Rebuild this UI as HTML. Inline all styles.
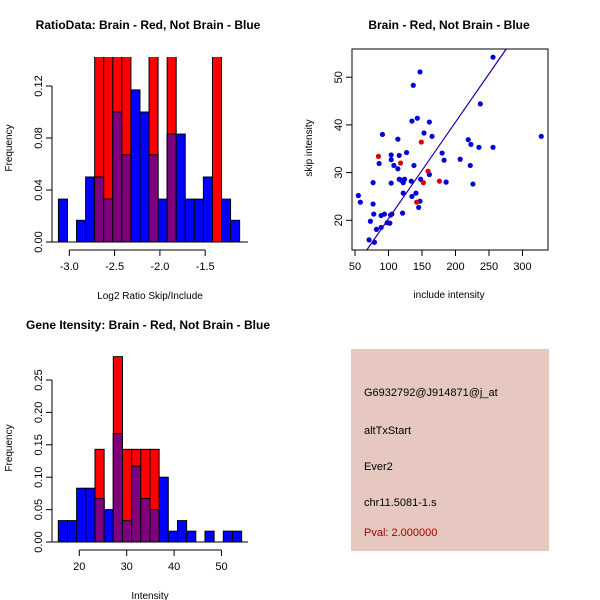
<!DOCTYPE html>
<html><head><meta charset="utf-8"><style>
body{margin:0;background:#fff}
svg{display:block;font-family:"Liberation Sans",sans-serif}
</style></head><body>
<svg id="s" width="600" height="600" viewBox="0 0 600 600" xmlns="http://www.w3.org/2000/svg">
<text x="148" y="29" font-size="12" font-weight="bold" text-anchor="middle">RatioData: Brain - Red, Not Brain - Blue</text>
<text x="449" y="29" font-size="12" font-weight="bold" text-anchor="middle">Brain - Red, Not Brain - Blue</text>
<text x="148" y="329" font-size="12" font-weight="bold" text-anchor="middle">Gene Itensity: Brain - Red, Not Brain - Blue</text>
<g id="p1"></g>
<g id="p2"></g>
<g id="p3"></g>
<g>
<rect x="351" y="349" width="198" height="202" fill="#e6c8c0"/>
<text x="364" y="396" font-size="11">G6932792@J914871@j_at</text>
<text x="364" y="434" font-size="11">altTxStart</text>
<text x="364" y="470" font-size="11">Ever2</text>
<text x="364" y="506" font-size="11">chr11.5081-1.s</text>
<text x="364" y="536" font-size="11" fill="#a00000">Pval: 2.000000</text>
</g>
</svg>
<script>
// Ratio histogram data
const ratioBinStart = -3.12, ratioBinWidth = 0.1;
const ratioBlue = [0.033,0,0.0167,0.05,0.05,0.033,0.1,0.067,0.117,0.1,0.067,0.033,0.083,0.083,0.033,0.033,0.05,0,0.033,0.0167];
const ratioRed  = [0,0,0,0,0.143,0.143,0.143,0.143,0,0,0.143,0,0.143,0,0,0,0,0.143,0,0];
const ratioXTicks = [-3.0,-2.5,-2.0,-1.5];
const ratioXLabels = ["-3.0","-2.5","-2.0","-1.5"];
const ratioYTicks = [0,0.04,0.08,0.12];
const ratioYLabels = ["0.00","0.04","0.08","0.12"];
// Intensity histogram data
const intBinStart = 15.57, intBinWidth = 1.934;
const intBlue = [0.033,0.033,0.083,0.083,0.067,0.05,0.167,0.033,0.117,0.067,0.05,0.1,0.0167,0.033,0.0167,0,0.0167,0,0.0167,0.0167];
const intRed  = [0,0,0,0,0.143,0,0.286,0.143,0.143,0.143,0.143,0,0,0,0,0,0,0,0,0];
const intXTicks = [20,30,40,50];
const intXLabels = ["20","30","40","50"];
const intYTicks = [0,0.05,0.1,0.15,0.2,0.25];
const intYLabels = ["0.00","0.05","0.10","0.15","0.20","0.25"];
// Scatter data
const blueX = [55,58,71,79,77,78,77,73,82,86,91,89,89,94,98,102,103,105,104,104,104,108,114,114,116,116,119,122,124,127,121,122,134,135,135,137,138,141,143,145,147,147,148,153,161,161,165,180,183,186,207,219,223,222,226,235,237,256,256,328];
const blueY = [25.2,23.8,15.9,15.4,23.4,21.3,27.9,19.8,18.1,31.9,38.0,21.0,18.5,21.3,19.5,19.4,21.1,21.3,33.7,32.7,27.8,31.5,37.0,30.8,33.6,28.6,28.4,27.9,28.6,34.2,21.5,25.7,28.2,25.0,40.8,48.3,31.5,25.7,41.4,22.7,51.1,24.0,28.6,38.3,40.6,29.6,37.6,34.1,32.6,28.0,32.8,36.9,35.9,31.5,27.6,35.3,44.4,35.3,54.2,37.6];
const redX = [85,118,149,152,159,176,142];
const redY = [33.4,32.0,36.4,27.9,30.3,28.2,23.8];
const fitIntercepts = [0.2,0.0];
const fitSlopes = [0.2018,0.2030];
const fitColors = ["#ff0000","#0000cc"];
const scXTicks = [50,100,150,200,250,300];
const scYTicks = [20,30,40,50];

const NS="http://www.w3.org/2000/svg";
function mk(parent,tag,attrs){const e=document.createElementNS(NS,tag);for(const k in attrs)e.setAttribute(k,attrs[k]);parent.appendChild(e);return e;}

function hist(g,o){
  const sx=v=>o.x0+(v-o.v0)*o.kx, sy=v=>o.y0-v*o.ky;
  const clip=mk(g,'clipPath',{id:o.id+'c'});
  mk(clip,'rect',{x:40,y:o.top,width:230,height:o.y0-o.top+1});
  const bars=mk(g,'g',{'clip-path':'url(#'+o.id+'c)'});
  for(let i=0;i<o.blue.length;i++){
    const xa=sx(o.start+i*o.w), xb=sx(o.start+(i+1)*o.w);
    const b=o.blue[i], r=o.red[i], m=Math.min(b,r);
    if(r>0){const e=mk(bars,'rect',{x:xa,y:sy(r),width:xb-xa,height:sy(0)-sy(r),fill:'#ff0000',stroke:'#000','stroke-width':1});
      
      }
    if(b>0){const e=mk(bars,'rect',{x:xa,y:sy(b),width:xb-xa,height:sy(0)-sy(b),fill:'#0000ff',stroke:'#000','stroke-width':1});
      
      }
    if(m>0){const e=mk(bars,'rect',{x:xa,y:sy(m),width:xb-xa,height:sy(0)-sy(m),fill:'#7f007f',stroke:'#000','stroke-width':1});
      
      }
  }
  // y axis
  const ya=mk(g,'g',{});
  
  
  mk(ya,'line',{x1:o.ax,x2:o.ax,y1:sy(o.yt[0]),y2:sy(o.yt[o.yt.length-1]),stroke:'#000'});
  o.yt.forEach((v,i)=>{mk(ya,'line',{x1:o.ax-6,x2:o.ax,y1:sy(v),y2:sy(v),stroke:'#000'});
    const t=mk(ya,'text',{x:0,y:0,'font-size':11,'text-anchor':'middle',transform:`translate(${o.ax-10},${sy(v)}) rotate(-90)`});t.textContent=o.yl[i];});
  const xa=mk(g,'g',{});
  
  
  const xy=o.y0+8;
  mk(xa,'line',{x1:sx(o.xt[0]),x2:sx(o.xt[o.xt.length-1]),y1:xy,y2:xy,stroke:'#000'});
  o.xt.forEach((v,i)=>{mk(xa,'line',{x1:sx(v),x2:sx(v),y1:xy,y2:xy+6,stroke:'#000'});
    const t=mk(xa,'text',{x:sx(v),y:xy+20,'font-size':11,'text-anchor':'middle'});t.textContent=o.xl[i];});
  // baseline
  mk(g,'line',{x1:o.ax,x2:248,y1:o.y0,y2:o.y0,stroke:'#000'});
  const xt=mk(g,'text',{x:150,y:o.y0+57,'font-size':10,'text-anchor':'middle'});xt.textContent=o.xtitle;
  
  
  const yt=mk(g,'text',{x:0,y:0,'font-size':10,'text-anchor':'middle',transform:`translate(12,${o.ymid}) rotate(-90)`});yt.textContent='Frequency';
  
  
}
hist(document.getElementById('p1'),{id:'p1',x0:69.3,v0:-3.0,kx:90.6,y0:242,ky:1300,top:57,ax:52,
  start:ratioBinStart,w:ratioBinWidth,blue:ratioBlue,red:ratioRed,xt:ratioXTicks,xl:ratioXLabels,yt:ratioYTicks,yl:ratioYLabels,
  xtitle:'Log2 Ratio Skip/Include',ymid:148});
hist(document.getElementById('p2'),{id:'p2',x0:79.3,v0:20,kx:4.74,y0:542,ky:648,top:350,ax:52,
  start:intBinStart,w:intBinWidth,blue:intBlue,red:intRed,xt:intXTicks,xl:intXLabels,yt:intYTicks,yl:intYLabels,
  xtitle:'Intensity',ymid:448});

// scatter
(function(){
  const g=document.getElementById('p3');
  const sx=v=>355+(v-50)*0.67, sy=v=>220.3-(v-20)*4.77;
  const L=352,R=548,T=49,B=250;
  const clip=mk(g,'clipPath',{id:'p3c'});mk(clip,'rect',{x:L,y:T,width:R-L,height:B-T});
  const area=mk(g,'g',{'clip-path':'url(#p3c)'});
  blueX.forEach((x,i)=>{const c=mk(area,'circle',{cx:sx(x),cy:sy(blueY[i]),r:2.6,fill:'#0000dd'});
    
    });
  redX.forEach((x,i)=>{const c=mk(area,'circle',{cx:sx(x),cy:sy(redY[i]),r:2.6,fill:'#dd0000'});
    
    });
  fitSlopes.forEach((s,i)=>{const a=fitIntercepts[i];
    const l=mk(area,'line',{x1:sx(40),y1:sy(a+s*40),x2:sx(350),y2:sy(a+s*350),stroke:fitColors[i],'stroke-width':1});
    
    });
  mk(g,'rect',{x:L,y:T,width:R-L,height:B-T,fill:'none',stroke:'#000'});
  scXTicks.forEach(v=>{mk(g,'line',{x1:sx(v),x2:sx(v),y1:B,y2:B+6,stroke:'#000'});
    const t=mk(g,'text',{x:sx(v),y:B+20,'font-size':11,'text-anchor':'middle'});t.textContent=v;});
  scYTicks.forEach(v=>{mk(g,'line',{x1:L-6,x2:L,y1:sy(v),y2:sy(v),stroke:'#000'});
    const t=mk(g,'text',{x:0,y:0,'font-size':11,'text-anchor':'middle',transform:`translate(${L-10},${sy(v)}) rotate(-90)`});t.textContent=v;});
  const xt=mk(g,'text',{x:449,y:298,'font-size':10,'text-anchor':'middle'});xt.textContent='include intensity';
  
  
  const yt=mk(g,'text',{x:0,y:0,'font-size':10,'text-anchor':'middle',transform:'translate(312,148) rotate(-90)'});yt.textContent='skip intensity';
  
  
})();
</script>
</body></html>
